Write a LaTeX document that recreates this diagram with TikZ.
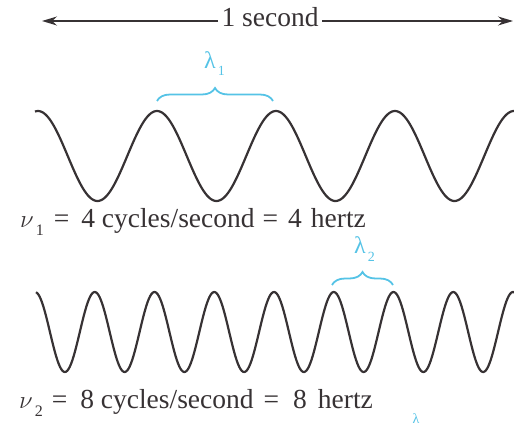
\documentclass[tikz,border=0pt]{standalone}
\usepackage{fontspec}
\setmainfont{Liberation Serif}
\usetikzlibrary{decorations.pathreplacing,arrows.meta}
\definecolor{wavecol}{RGB}{55,50,52}
\definecolor{lamcol}{RGB}{85,195,230}
\tikzset{
  wave/.style={draw=wavecol, line width=2.2pt, line join=round},
  bracestyle/.style={draw=lamcol, line width=1.8pt, decorate, decoration={brace, amplitude=13pt}},
  bigtext/.style={font=\fontsize{27.5}{30}\selectfont, text=wavecol, inner sep=0pt},
  lamtext/.style={font=\fontsize{24}{26}\selectfont, text=lamcol, inner sep=0pt},
  secarrow/.style={draw=wavecol, line width=1.4pt, -{Stealth[length=15pt,width=9pt]}}
}
\newcommand{\lamsub}[1]{λ\hspace{2pt}\raisebox{-8pt}{\fontsize{14}{14}\selectfont #1}}
\newcommand{\nusub}[1]{\(\nu\)\hspace{2pt}\raisebox{-8pt}{\fontsize{16}{16}\selectfont #1}}
\begin{document}
\begin{tikzpicture}[x=1pt,y=-1pt]
\useasboundingbox (0,0) rectangle (514,428);
\clip (0,0) rectangle (514,428);
% top arrow
\node[bigtext, anchor=base] (sec) at (270,27) {1 second};
\coordinate (sl) at (218,21);
\coordinate (sr) at (322,21);
\coordinate (L) at (42,21);
\coordinate (R) at (513,21);
\draw[secarrow] (sl) -- (L);
\draw[secarrow] (sr) -- (R);
% wave 1
\draw[wave] plot[domain=35:516, samples=300] (\x, {156-45*cos(3.02521*(\x-38))});
% wave 2
\draw[wave] plot[domain=36:516, samples=400] (\x, {332-40*cos(6.02510*(\x-35))});
% brace 1
\coordinate (b1a) at (157,101);
\coordinate (b1b) at (273,101);
\draw[bracestyle] (b1a) -- (b1b);
\node[lamtext, anchor=base west] (l1) at (204,68) {\lamsub{1}};
% brace 2
\coordinate (b2a) at (332,285);
\coordinate (b2b) at (393,285);
\draw[bracestyle] (b2a) -- (b2b);
\node[lamtext, anchor=base west] (l2) at (354,253) {\lamsub{2}};
% captions
\node[bigtext, anchor=base west] (n1) at (20,227) {\nusub{1}\hspace{10pt}=\hspace{12pt}4 cycles/second\hspace{8pt}=\hspace{10pt}4\hspace{9pt}hertz};
\node[bigtext, anchor=base west] (n2) at (19,408) {\nusub{2}\hspace{9pt}=\hspace{13pt}8 cycles/second\hspace{10pt}=\hspace{14pt}8\hspace{11pt}hertz};
% lambda at bottom edge
\node[lamtext, font=\fontsize{14}{14}\selectfont, anchor=south] (l3) at (416,424) {λ};
\end{tikzpicture}
\end{document}
